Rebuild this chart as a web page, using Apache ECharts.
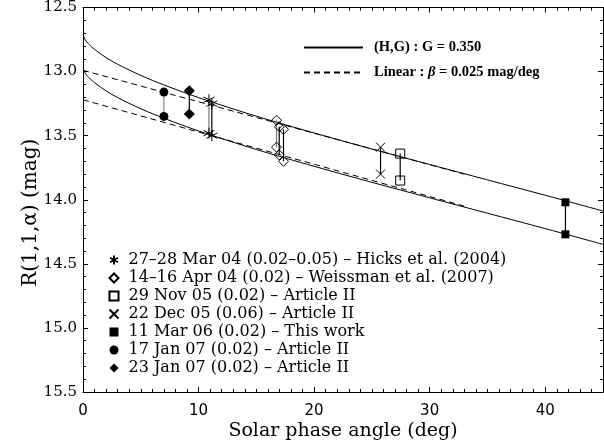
<!DOCTYPE html>
<html><head><meta charset="utf-8">
<script src="https://cdn.jsdelivr.net/npm/echarts/dist/echarts.min.js"></script>
<style>html,body{margin:0;padding:0;background:#fff}#c{width:604px;height:448px}</style>
</head><body><div id="c"></div>
<script>
// ---- data ----
const hicksX = [10.9, 11.15], hicksHi = [13.22, 13.25], hicksLo = [13.48, 13.50];
const weissX = [16.75, 16.98, 17.35], weissHi = [13.38, 13.43, 13.45], weissLo = [13.59, 13.65, 13.70];
const nov05X = [27.45], nov05Hi = [13.64], nov05Lo = [13.85];
const dec05X = [25.75], dec05Hi = [13.59], dec05Lo = [13.80];
const mar06X = [41.75], mar06Hi = [14.02], mar06Lo = [14.27];
const jan17X = [7.0], jan17Hi = [13.16], jan17Lo = [13.35];
const jan23X = [9.2], jan23Hi = [13.15], jan23Lo = [13.33];

const curveX = [0, 0.2, 0.5, 1, 2, 3, 5, 7, 10, 15, 20, 25, 30, 35, 40, 45];
const hgUpper = [12.71, 12.753, 12.786, 12.827, 12.891, 12.943, 13.030, 13.104, 13.203, 13.348, 13.479, 13.604, 13.725, 13.845, 13.965, 14.088];
const hgLower = [12.97, 13.013, 13.046, 13.087, 13.151, 13.203, 13.290, 13.364, 13.463, 13.608, 13.739, 13.864, 13.985, 14.105, 14.225, 14.348];
const linX = [0, 33];
const linUpper = [12.99, 13.80];
const linLower = [13.22, 14.05];

const xTicks = [0, 10, 20, 30, 40];
const yTicks = [12.5, 13.0, 13.5, 14.0, 14.5, 15.0, 15.5];

const labels = [
  '27\u201328 Mar 04 (0.02\u20130.05) \u2013 Hicks et al. (2004)',
  '14\u201316 Apr 04 (0.02) \u2013 Weissman et al. (2007)',
  '29 Nov 05 (0.02) \u2013 Article II',
  '22 Dec 05 (0.06) \u2013 Article II',
  '11 Mar 06 (0.02) \u2013 This work',
  '17 Jan 07 (0.02) \u2013 Article II',
  '23 Jan 07 (0.02) \u2013 Article II'
];
const HG_NAME = 'HG', LIN_NAME = 'LIN';

// ---- styles ----
const ASTER = 'path://M5,0L5,10M0.67,2.5L9.33,7.5M0.67,7.5L9.33,2.5';
const XMARK = 'path://M0,0L10,10M0,10L10,0';
const groups = [
  {x: hicksX, hi: hicksHi, lo: hicksLo, symbol: ASTER, size: 11, open: true, link: ['#777', '#000']},
  {x: weissX, hi: weissHi, lo: weissLo, symbol: 'diamond', size: 10, open: true, link: ['#777', '#000', '#000']},
  {x: nov05X, hi: nov05Hi, lo: nov05Lo, symbol: 'rect', size: 9, open: true, link: ['#000']},
  {x: dec05X, hi: dec05Hi, lo: dec05Lo, symbol: XMARK, size: 9, open: true, link: ['#000']},
  {x: mar06X, hi: mar06Hi, lo: mar06Lo, symbol: 'rect', size: 8, open: false, link: ['#000']},
  {x: jan17X, hi: jan17Hi, lo: jan17Lo, symbol: 'circle', size: 9, open: false, link: ['#888']},
  {x: jan23X, hi: jan23Hi, lo: jan23Lo, symbol: 'diamond', size: 11, open: false, link: ['#000']}
];

const FONT = 'DejaVu Serif';
const GRID = {left: 83, right: 1, top: 6, bottom: 56};

const series = [];
const zip = (xs, ys) => xs.map((v, i) => [v, ys[i]]);
[hgUpper, hgLower].forEach(arr => series.push({name: HG_NAME, type: 'line', data: zip(curveX, arr), symbol: 'none', smooth: 0.3,
  lineStyle: {color: '#000', width: 1, type: 'solid'}, itemStyle: {color: '#000'}, z: 2, silent: true}));
[linUpper, linLower].forEach(arr => series.push({name: LIN_NAME, type: 'line', data: zip(linX, arr), symbol: 'none',
  lineStyle: {color: '#000', width: 1, type: [6, 4]}, itemStyle: {color: '#000'}, z: 2, silent: true}));

groups.forEach((g, gi) => {
  g.x.forEach((xv, i) => {
    series.push({name: 'link' + gi + '_' + i, type: 'line', data: [[xv, g.hi[i]], [xv, g.lo[i]]], symbol: 'none',
      lineStyle: {color: g.link[i] || '#000', width: 1.2}, z: 3, silent: true});
  });
  const pts = [];
  g.x.forEach((xv, i) => { pts.push([xv, g.hi[i]]); pts.push([xv, g.lo[i]]); });
  series.push({name: labels[gi], type: 'scatter', data: pts, symbol: g.symbol, symbolSize: g.size, z: 4, silent: true,
    itemStyle: g.open ? {color: 'rgba(0,0,0,0)', borderColor: '#000', borderWidth: 1, opacity: 1}
                      : {color: '#000', borderWidth: 0, opacity: 1}});
});

const axisLine = {show: true, onZero: false, lineStyle: {color: '#000', width: 1}};
const xBase = {type: 'value', min: xTicks[0], max: 45, interval: 10, axisLine: axisLine,
  axisTick: {show: true, inside: true}, minorTick: {show: true, splitNumber: 10}, splitLine: {show: false}};
const yBase = {type: 'value', inverse: true, min: yTicks[0], max: yTicks[yTicks.length - 1], interval: 0.5, axisLine: axisLine,
  axisTick: {show: true, inside: true}, minorTick: {show: true, splitNumber: 5}, splitLine: {show: false}};

const chart = echarts.init(document.getElementById('c'), null, {renderer: 'canvas'});
chart.setOption({
  animation: false,
  backgroundColor: '#fff',
  textStyle: {fontFamily: FONT, color: '#000'},
  grid: {left: GRID.left, right: GRID.right, top: GRID.top, bottom: GRID.bottom},
  xAxis: [
    Object.assign({}, xBase, {position: 'bottom',
      axisLabel: {show: true, margin: 12, fontFamily: 'DejaVu Sans', fontSize: 15, color: '#000', showMaxLabel: false,
        formatter: v => xTicks.includes(v) ? String(v) : ''},
      name: 'Solar phase angle (deg)', nameLocation: 'middle', nameGap: 30, nameMoveOverlap: false,
      nameTextStyle: {fontFamily: FONT, fontSize: 19, color: '#000'}}),
    Object.assign({}, xBase, {position: 'top', axisLabel: {show: false}})
  ],
  yAxis: [
    Object.assign({}, yBase, {position: 'left',
      axisLabel: {show: true, margin: 6, fontFamily: FONT, fontSize: 15, color: '#000', formatter: v => v.toFixed(1)},
      name: 'R(1,1,\u03b1) (mag)', nameLocation: 'middle', nameGap: 42, nameMoveOverlap: false,
      nameTextStyle: {fontFamily: FONT, fontSize: 20, color: '#000', padding: [0, 26, 0, 0]}}),
    Object.assign({}, yBase, {position: 'right', axisLabel: {show: false}})
  ],
  legend: [
    {data: [HG_NAME, LIN_NAME], orient: 'vertical', left: 298, top: 35, itemWidth: 59, itemHeight: 14, itemGap: 10,
      selectedMode: false,
      itemStyle: {color: 'rgba(0,0,0,0)', borderColor: 'rgba(0,0,0,0)', borderWidth: 0, opacity: 0},
      formatter: n => n === HG_NAME ? '{t|(H,G) : G = 0.350}' : '{t|Linear : }{b|\u03b2}{t| = 0.025 mag/deg}',
      textStyle: {fontFamily: 'Liberation Serif', fontSize: 14.5, fontWeight: 'bold', color: '#000', padding: [0, 0, 0, 6],
        rich: {t: {fontFamily: 'Liberation Serif', fontSize: 14.5, fontWeight: 'bold', color: '#000', lineHeight: 16},
               b: {fontFamily: 'Liberation Serif', fontSize: 14.5, fontWeight: 'bold', fontStyle: 'italic', color: '#000', lineHeight: 16}}}},
    {data: labels, orient: 'vertical', left: 103.5, top: 246, itemWidth: 9, itemHeight: 9, itemGap: 0,
      selectedMode: false,
      textStyle: {fontFamily: FONT, fontSize: 16, color: '#000', lineHeight: 18, padding: [0, 0, 0, 5]}}
  ],
  series: series
});
</script></body></html>
